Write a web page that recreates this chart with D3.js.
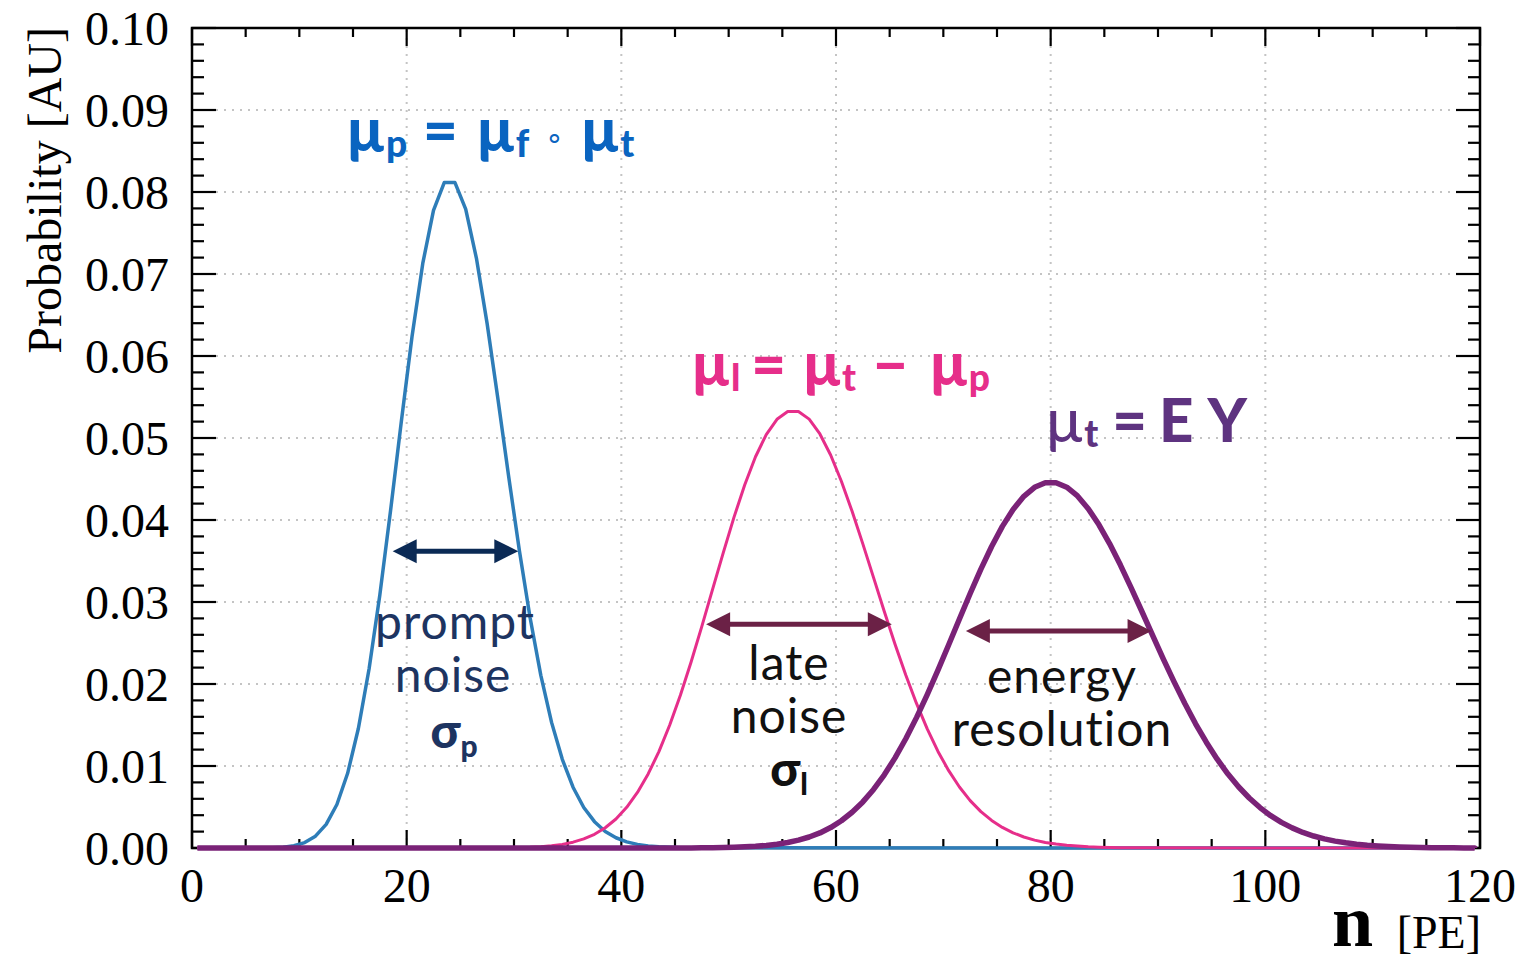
<!DOCTYPE html>
<html>
<head>
<meta charset="utf-8">
<script src="https://cdn.jsdelivr.net/npm/d3@7"></script>
<style>
  html, body { margin: 0; padding: 0; background: #fff; }
  svg { display: block; }
</style>
</head>
<body>
<svg id="chart" width="1540" height="962"></svg>
<script>
// ---------- data (bin centres: first x, then one value per unit step) ----------
const xTickValues = [0, 20, 40, 60, 80, 100, 120];
const xTickLabels = ["0", "20", "40", "60", "80", "100", "120"];
const yTickValues = [0, 0.01, 0.02, 0.03, 0.04, 0.05, 0.06, 0.07, 0.08, 0.09, 0.10];
const yTickLabels = ["0.00", "0.01", "0.02", "0.03", "0.04", "0.05", "0.06", "0.07", "0.08", "0.09", "0.10"];

const rangeStartX = 0.5;   // first bin centre
const rangeEndX = 119.5;   // last bin centre

// prompt component (blue)
const promptStartX = 5.5;
const promptValues = [0.00000, 0.00001, 0.00003, 0.00010, 0.00027, 0.00066, 0.00144, 0.00288, 0.00531, 0.00911,
  0.01457, 0.02186, 0.03086, 0.04115, 0.05198, 0.06238, 0.07129, 0.07777, 0.08115, 0.08115,
  0.07790, 0.07191, 0.06392, 0.05479, 0.04534, 0.03627, 0.02808, 0.02106, 0.01532, 0.01081,
  0.00741, 0.00494, 0.00321, 0.00202, 0.00125, 0.00075, 0.00044, 0.00025, 0.00014, 0.00008,
  0.00004, 0.00002];

// late component (pink)
const lateStartX = 28.5;
const lateValues = [0.00001, 0.00003, 0.00005, 0.00009, 0.00016, 0.00027, 0.00044, 0.00071, 0.00111, 0.00167,
  0.00247, 0.00354, 0.00496, 0.00677, 0.00903, 0.01176, 0.01497, 0.01863, 0.02268, 0.02702,
  0.03153, 0.03603, 0.04035, 0.04430, 0.04771, 0.05041, 0.05228, 0.05323, 0.05323, 0.05230,
  0.05049, 0.04793, 0.04473, 0.04106, 0.03709, 0.03297, 0.02885, 0.02485, 0.02109, 0.01763,
  0.01452, 0.01178, 0.00943, 0.00744, 0.00578, 0.00444, 0.00336, 0.00251, 0.00185, 0.00134,
  0.00096, 0.00068, 0.00048, 0.00033, 0.00023, 0.00015, 0.00010, 0.00007, 0.00004, 0.00003,
  0.00002];

// total (purple)
const totalStartX = 46.5;
const totalValues = [0.00001, 0.00002, 0.00004, 0.00006, 0.00009, 0.00014, 0.00021, 0.00031, 0.00046, 0.00067,
  0.00096, 0.00134, 0.00184, 0.00249, 0.00332, 0.00436, 0.00562, 0.00714, 0.00893, 0.01099,
  0.01332, 0.01590, 0.01871, 0.02169, 0.02479, 0.02793, 0.03103, 0.03401, 0.03677, 0.03922,
  0.04128, 0.04289, 0.04399, 0.04455, 0.04455, 0.04400, 0.04293, 0.04138, 0.03941, 0.03709,
  0.03450, 0.03172, 0.02884, 0.02592, 0.02304, 0.02026, 0.01762, 0.01515, 0.01290, 0.01086,
  0.00905, 0.00747, 0.00610, 0.00493, 0.00394, 0.00312, 0.00245, 0.00190, 0.00146, 0.00111,
  0.00084, 0.00063, 0.00047, 0.00034, 0.00025, 0.00018, 0.00013, 0.00009, 0.00006, 0.00004,
  0.00003, 0.00002, 0.00001, 0.00001];

// ---------- layout ----------
const svg = d3.select("#chart");
const L = 192, R = 1480, T = 28, B = 848;
const x = d3.scaleLinear().domain([0, 120]).range([L, R]);
const y = d3.scaleLinear().domain([0, 0.10]).range([B, T]);

const serif = "'Liberation Serif', 'Times New Roman', serif";
const sans = "Lato, 'Open Sans', sans-serif";

// grid
const grid = svg.append("g").attr("stroke", "#c4c4c4").attr("stroke-width", 2)
  .attr("stroke-dasharray", "2,6");
xTickValues.slice(1, -1).forEach(v => {
  grid.append("line").attr("x1", x(v)).attr("x2", x(v)).attr("y1", B).attr("y2", T);
});
yTickValues.slice(1, -1).forEach(v => {
  grid.append("line").attr("x1", L).attr("x2", R).attr("y1", y(v)).attr("y2", y(v));
});

// ticks (inward on all four sides)
const ticks = svg.append("g").attr("stroke", "#000").attr("stroke-width", 2.2);
d3.range(0, 121, 5).forEach(v => {
  const len = (v % 20 === 0) ? 18 : 9;
  ticks.append("line").attr("x1", x(v)).attr("x2", x(v)).attr("y1", B).attr("y2", B - len);
  ticks.append("line").attr("x1", x(v)).attr("x2", x(v)).attr("y1", T).attr("y2", T + len);
});
d3.range(0, 51).forEach(i => {
  const v = i * 0.002;
  const len = (i % 5 === 0) ? 24 : 12;
  ticks.append("line").attr("x1", L).attr("x2", L + len).attr("y1", y(v)).attr("y2", y(v));
  ticks.append("line").attr("x1", R).attr("x2", R - len).attr("y1", y(v)).attr("y2", y(v));
});

// frame
svg.append("rect").attr("x", L).attr("y", T).attr("width", R - L).attr("height", B - T)
  .attr("fill", "none").attr("stroke", "#000").attr("stroke-width", 2.5);

// tick labels
svg.append("g").selectAll("text").data(xTickValues).join("text")
  .attr("x", d => x(d)).attr("y", 902)
  .attr("text-anchor", "middle")
  .attr("font-family", serif).attr("font-size", 48).attr("fill", "#000")
  .text((d, i) => xTickLabels[i]);
svg.append("g").selectAll("text").data(yTickValues).join("text")
  .attr("x", 169).attr("y", d => y(d) + 16.5)
  .attr("text-anchor", "end")
  .attr("font-family", serif).attr("font-size", 48).attr("fill", "#000")
  .text((d, i) => yTickLabels[i]);

// axis titles
svg.append("text")
  .attr("transform", "translate(61,27) rotate(-90)")
  .attr("text-anchor", "end")
  .attr("font-family", serif).attr("font-size", 48).attr("fill", "#000")
  .text("Probability [AU]");
svg.append("text").attr("x", 1332).attr("y", 946)
  .attr("font-family", serif).attr("font-size", 74).attr("font-weight", "bold").attr("fill", "#000")
  .text("n");
svg.append("text").attr("x", 1481).attr("y", 948).attr("text-anchor", "end")
  .attr("font-family", serif).attr("font-size", 46).attr("fill", "#000")
  .text("[PE]");

// curves
function series(startX, values) {
  const pts = [[rangeStartX, 0]];
  values.forEach((v, i) => pts.push([startX + i, v]));
  pts.push([rangeEndX, 0]);
  return pts;
}
const line = d3.line().x(d => x(d[0])).y(d => y(d[1]));
svg.append("path").datum(series(promptStartX, promptValues)).attr("d", line)
  .attr("fill", "none").attr("stroke", "#2E7DB8").attr("stroke-width", 3.5).attr("stroke-linejoin", "round");
svg.append("path").datum(series(lateStartX, lateValues)).attr("d", line)
  .attr("fill", "none").attr("stroke", "#E62E8A").attr("stroke-width", 3).attr("stroke-linejoin", "round");
svg.append("path").datum(series(totalStartX, totalValues)).attr("d", line)
  .attr("fill", "none").attr("stroke", "#7A2277").attr("stroke-width", 5.5).attr("stroke-linejoin", "round");

// arrows
function dblArrow(x1, x2, yv, color) {
  const g = svg.append("g");
  const yy = y(yv), a = x(x1), b = x(x2);
  const hl = 24, hw = 12;
  g.append("line").attr("x1", a + hl - 2).attr("x2", b - hl + 2).attr("y1", yy).attr("y2", yy)
    .attr("stroke", color).attr("stroke-width", 5);
  g.append("path").attr("d", `M${a},${yy} L${a + hl},${yy - hw} L${a + hl},${yy + hw} Z`).attr("fill", color);
  g.append("path").attr("d", `M${b},${yy} L${b - hl},${yy - hw} L${b - hl},${yy + hw} Z`).attr("fill", color);
}
dblArrow(18.7, 30.4, 0.0362, "#0B2A55");
dblArrow(47.9, 65.2, 0.0273, "#6B2146");
dblArrow(72.1, 89.4, 0.02645, "#6B2146");

// equations: flowing segments [text, kind, gapBefore]
function equation(px, py, size, color, segs) {
  const t = svg.append("text").attr("x", px).attr("y", py)
    .attr("font-family", sans).attr("font-size", size).attr("fill", color).attr("font-weight", 900);
  let shift = 0;
  segs.forEach(([txt, kind, gap]) => {
    const sp = t.append("tspan").attr("dx", gap).text(txt);
    let target = 0;
    if (kind === "s") { sp.attr("font-size", size * 0.62); target = 5; }
    if (kind === "o") { sp.attr("font-size", size * 0.5).attr("font-weight", 400); target = -4; }
    if (kind === "m") { sp.attr("font-weight", 500); }
    sp.attr("dy", target - shift);
    shift = target;
  });
  return t;
}
equation(346, 152, 60, "#0A64C0",
  [["\u00B5", "n", 0], ["p", "s", 0], ["=", "n", 16], ["\u00B5", "n", 18], ["f", "s", 0],
   ["\u2218", "o", 16], ["\u00B5", "n", 16], ["t", "s", 0]]);
equation(691, 386, 60, "#E62E8A",
  [["\u00B5", "n", 0], ["l", "s", 0], ["=", "n", 11], ["\u00B5", "n", 16], ["t", "s", 0],
   ["\u2212", "n", 17], ["\u00B5", "n", 21], ["p", "s", 0]]);
equation(1045, 442, 60, "#5E3380",
  [["\u00B5", "m", 0], ["t", "s", 0], ["=", "n", 14], ["E", "n", 12], ["Y", "n", 14]]);

// labels
function label(cx, cy, txt, color) {
  svg.append("text").attr("x", cx).attr("y", cy).attr("text-anchor", "middle")
    .attr("font-family", sans).attr("font-size", 48).attr("letter-spacing", 1)
    .attr("fill", color).text(txt);
}
function sigma(cx, cy, sub, color) {
  const t = svg.append("text").attr("x", cx).attr("y", cy).attr("text-anchor", "middle")
    .attr("font-family", sans).attr("font-size", 48).attr("font-weight", 900).attr("fill", color);
  t.append("tspan").text("\u03C3");
  t.append("tspan").attr("font-size", 30).attr("dy", 9).text(sub);
}
label(455, 639, "prompt", "#1D3461");
label(453, 692, "noise", "#1D3461");
sigma(454, 748, "p", "#1D3461");
label(789, 680, "late", "#111");
label(789, 733, "noise", "#111");
sigma(789, 786, "l", "#111");
label(1062, 693, "energy", "#111");
label(1062, 746, "resolution", "#111");
</script>
</body>
</html>
